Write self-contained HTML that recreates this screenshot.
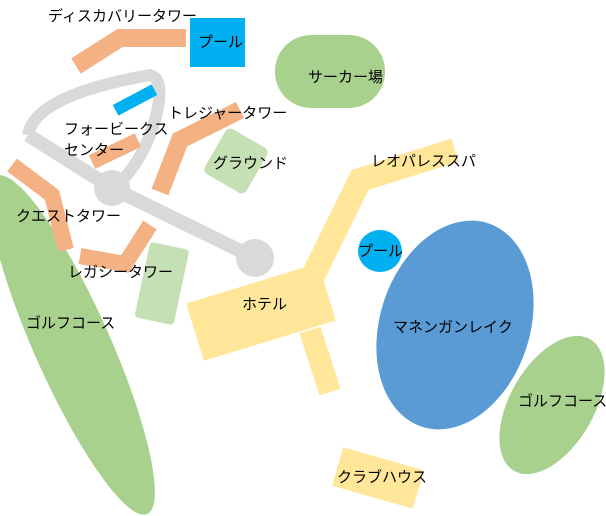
<!DOCTYPE html><html><head><meta charset="utf-8"><style>body{margin:0;background:#fff}svg{display:block}text{font-family:"Liberation Sans","Noto Sans CJK JP",sans-serif;font-size:15px;fill:#000}</style></head><body>
<svg width="606" height="516" viewBox="0 0 606 516">
<ellipse cx="72" cy="345" rx="38" ry="185" fill="#a9d18e" transform="rotate(-24 72 345)"/>
<g fill="none" stroke-linejoin="miter">
<polyline points="76,66 120,38 186,38" stroke="#f4b183" stroke-width="18"/>
<path d="M28,135 Q35,95 150,75 Q168,80 152,130 Q138,168 112,190" stroke="#d9d9d9" stroke-width="12"/>
<polyline points="28,135 112,188 255,258" stroke="#d9d9d9" stroke-width="14"/>
<polyline points="92,162 138,140" stroke="#f4b183" stroke-width="15"/>
<polyline points="160,192 180,140 240,110" stroke="#f4b183" stroke-width="18"/>
<polyline points="12,165 52,195 66,250" stroke="#f4b183" stroke-width="16"/>
<polyline points="150,225 125,264 80,256" stroke="#f4b183" stroke-width="16"/>
<polyline points="310,282 360,180 455,150" stroke="#ffe699" stroke-width="24"/>
<line x1="310" y1="330" x2="330" y2="392" stroke="#ffe699" stroke-width="22"/>
</g>
<circle cx="112" cy="188" r="18" fill="#d9d9d9"/>
<circle cx="255" cy="258" r="19" fill="#d9d9d9"/>
<rect x="190" y="18" width="55" height="49" fill="#00b0f0"/>
<rect x="113" y="94" width="44" height="12" fill="#00b0f0" transform="rotate(-28 135 100)"/>
<rect x="275" y="35" width="110" height="73" rx="36" fill="#a9d18e"/>
<rect x="212" y="135" width="48" height="52" rx="6" fill="#c5e0b4" transform="rotate(30 236 161)"/>
<rect x="142" y="245" width="40" height="77" rx="4" fill="#c5e0b4" transform="rotate(12 162 283)"/>
<rect x="192" y="282" width="138" height="60" fill="#ffe699" transform="rotate(-17 261 312)"/>
<ellipse cx="380" cy="251" rx="22" ry="21" fill="#00b0f0"/>
<ellipse cx="455" cy="325" rx="75" ry="107" fill="#5b9bd5" transform="rotate(18 455 325)"/>
<ellipse cx="552" cy="405" rx="42" ry="76" fill="#a9d18e" transform="rotate(30 552 405)"/>
<rect x="336" y="458" width="84" height="40" fill="#ffe699" transform="rotate(16 378 478)"/>
<text x="48" y="21">ディスカバリータワー</text>
<text x="198" y="47">プール</text>
<text x="308" y="82">サーカー場</text>
<text x="168" y="118">トレジャータワー</text>
<text x="64" y="134">フォービークス</text>
<text x="64" y="155">センター</text>
<text x="213" y="168">グラウンド</text>
<text x="371" y="166">レオパレススパ</text>
<text x="16" y="221">クエストタワー</text>
<text x="358" y="256">プール</text>
<text x="68" y="277">レガシータワー</text>
<text x="242" y="309">ホテル</text>
<text x="26" y="328">ゴルフコース</text>
<text x="393" y="332">マネンガンレイク</text>
<text x="518" y="406">ゴルフコース</text>
<text x="337" y="482">クラブハウス</text>
</svg></body></html>
